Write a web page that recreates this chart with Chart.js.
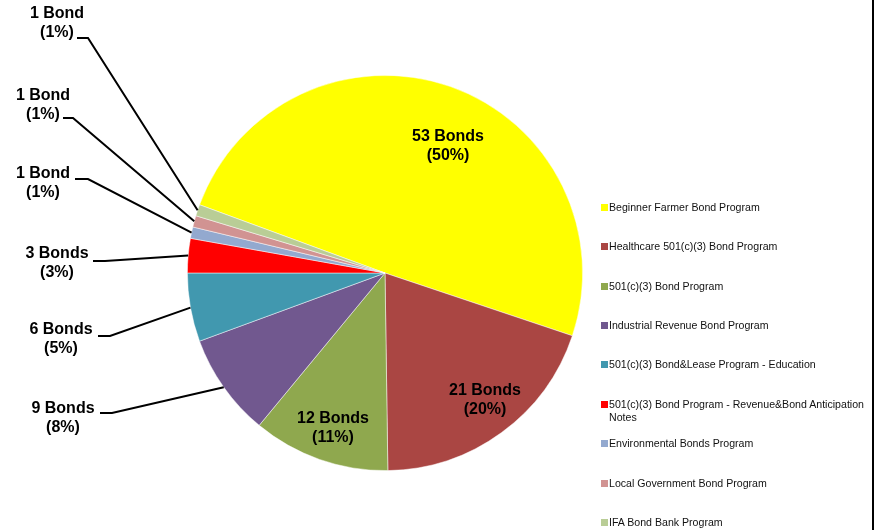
<!DOCTYPE html>
<html>
<head>
<meta charset="utf-8">
<script src="https://cdn.jsdelivr.net/npm/chart.js@4/dist/chart.umd.min.js"></script>
<style>
  html, body { margin: 0; padding: 0; background: #fff; }
  #wrap { position: relative; width: 881px; height: 530px; overflow: hidden; }
  #chart { position: absolute; left: 0; top: 0; }
  #edge { position: absolute; left: 872px; top: 0; width: 2px; height: 530px; background: #000; }
  #legend { position: absolute; left: 601px; top: 0; font-family: "Liberation Sans", Arial, sans-serif; font-size: 10.6px; color: #111; }
  .item { position: absolute; left: 0; width: 268px; line-height: 13px; padding-left: 8px; white-space: normal; }
  .box { position: absolute; left: 0; top: 3px; width: 7px; height: 7px; }
</style>
</head>
<body>
<div id="wrap">
  <canvas id="chart" width="881" height="530"></canvas>
  <div id="legend"></div>
  <div id="edge"></div>
</div>
<script>
// dados do grafico
const programas = [
  "Beginner Farmer Bond Program",
  "Healthcare 501(c)(3) Bond Program",
  "501(c)(3) Bond Program",
  "Industrial Revenue Bond Program",
  "501(c)(3) Bond&Lease Program - Education",
  "501(c)(3) Bond Program - Revenue&Bond Anticipation Notes",
  "Environmental Bonds Program",
  "Local Government Bond Program",
  "IFA Bond Bank Program"
];
const bonds = [53, 21, 12, 9, 6, 3, 1, 1, 1];
const percentuais = ["50%", "20%", "11%", "8%", "5%", "3%", "1%", "1%", "1%"];
const cores = ["#FFFF00", "#AA4643", "#8FA84E", "#71588F", "#4198AF", "#FF0000", "#93A9CF", "#D19392", "#B9CD96"];

// posicao dos rotulos (centro da primeira linha) e das linhas de chamada
const rotuloPos = [[448, 137], [485, 391], [333, 419], [63, 409], [61, 330], [57, 254], [43, 174], [43, 96], [57, 14]];
const chamadas = [null, null, null, [100, 112, 413], [98, 110, 336], [93, 105, 261], [75, 88, 179], [63, 73, 118], [77, 88, 38]];
const legendaY = [208, 247, 287, 326, 365, 405, 444, 484, 523];

// legenda em HTML
const legenda = document.getElementById("legend");
programas.forEach((nome, i) => {
  const item = document.createElement("div");
  item.className = "item";
  item.style.top = (legendaY[i] - 7) + "px";
  const box = document.createElement("span");
  box.className = "box";
  box.style.background = cores[i];
  item.appendChild(box);
  item.appendChild(document.createTextNode(nome));
  legenda.appendChild(item);
});

// plugin para desenhar os rotulos e as linhas
const rotulos = {
  id: "rotulos",
  afterDatasetsDraw(chart) {
    const ctx = chart.ctx;
    const meta = chart.getDatasetMeta(0);
    ctx.save();
    ctx.font = "bold 16px 'Liberation Sans', Arial, sans-serif";
    ctx.fillStyle = "#000";
    ctx.textAlign = "center";
    ctx.textBaseline = "middle";
    meta.data.forEach((arc, i) => {
      const p = arc.getProps(["x", "y", "startAngle", "endAngle", "outerRadius"], true);
      const meio = (p.startAngle + p.endAngle) / 2;
      const texto = bonds[i] + (bonds[i] === 1 ? " Bond" : " Bonds");
      const [lx, ly] = rotuloPos[i];
      ctx.fillText(texto, lx, ly);
      ctx.fillText("(" + percentuais[i] + ")", lx, ly + 19);
      const c = chamadas[i];
      if (c) {
        ctx.beginPath();
        ctx.strokeStyle = "#000";
        ctx.lineWidth = 2;
        ctx.moveTo(c[0], c[2]);
        ctx.lineTo(c[1], c[2]);
        ctx.lineTo(p.x + Math.cos(meio) * p.outerRadius, p.y + Math.sin(meio) * p.outerRadius);
        ctx.stroke();
      }
    });
    ctx.restore();
  }
};

new Chart(document.getElementById("chart"), {
  type: "pie",
  data: {
    labels: programas,
    datasets: [{
      data: bonds,
      backgroundColor: cores,
      borderColor: "rgba(255,255,255,0.6)",
      borderWidth: 0.8
    }]
  },
  options: {
    responsive: false,
    animation: false,
    rotation: -69.8,
    layout: { padding: { left: 187, top: 75, right: 298, bottom: 59 } },
    plugins: {
      legend: { display: false },
      tooltip: { enabled: false }
    }
  },
  plugins: [rotulos]
});
</script>
</body>
</html>
